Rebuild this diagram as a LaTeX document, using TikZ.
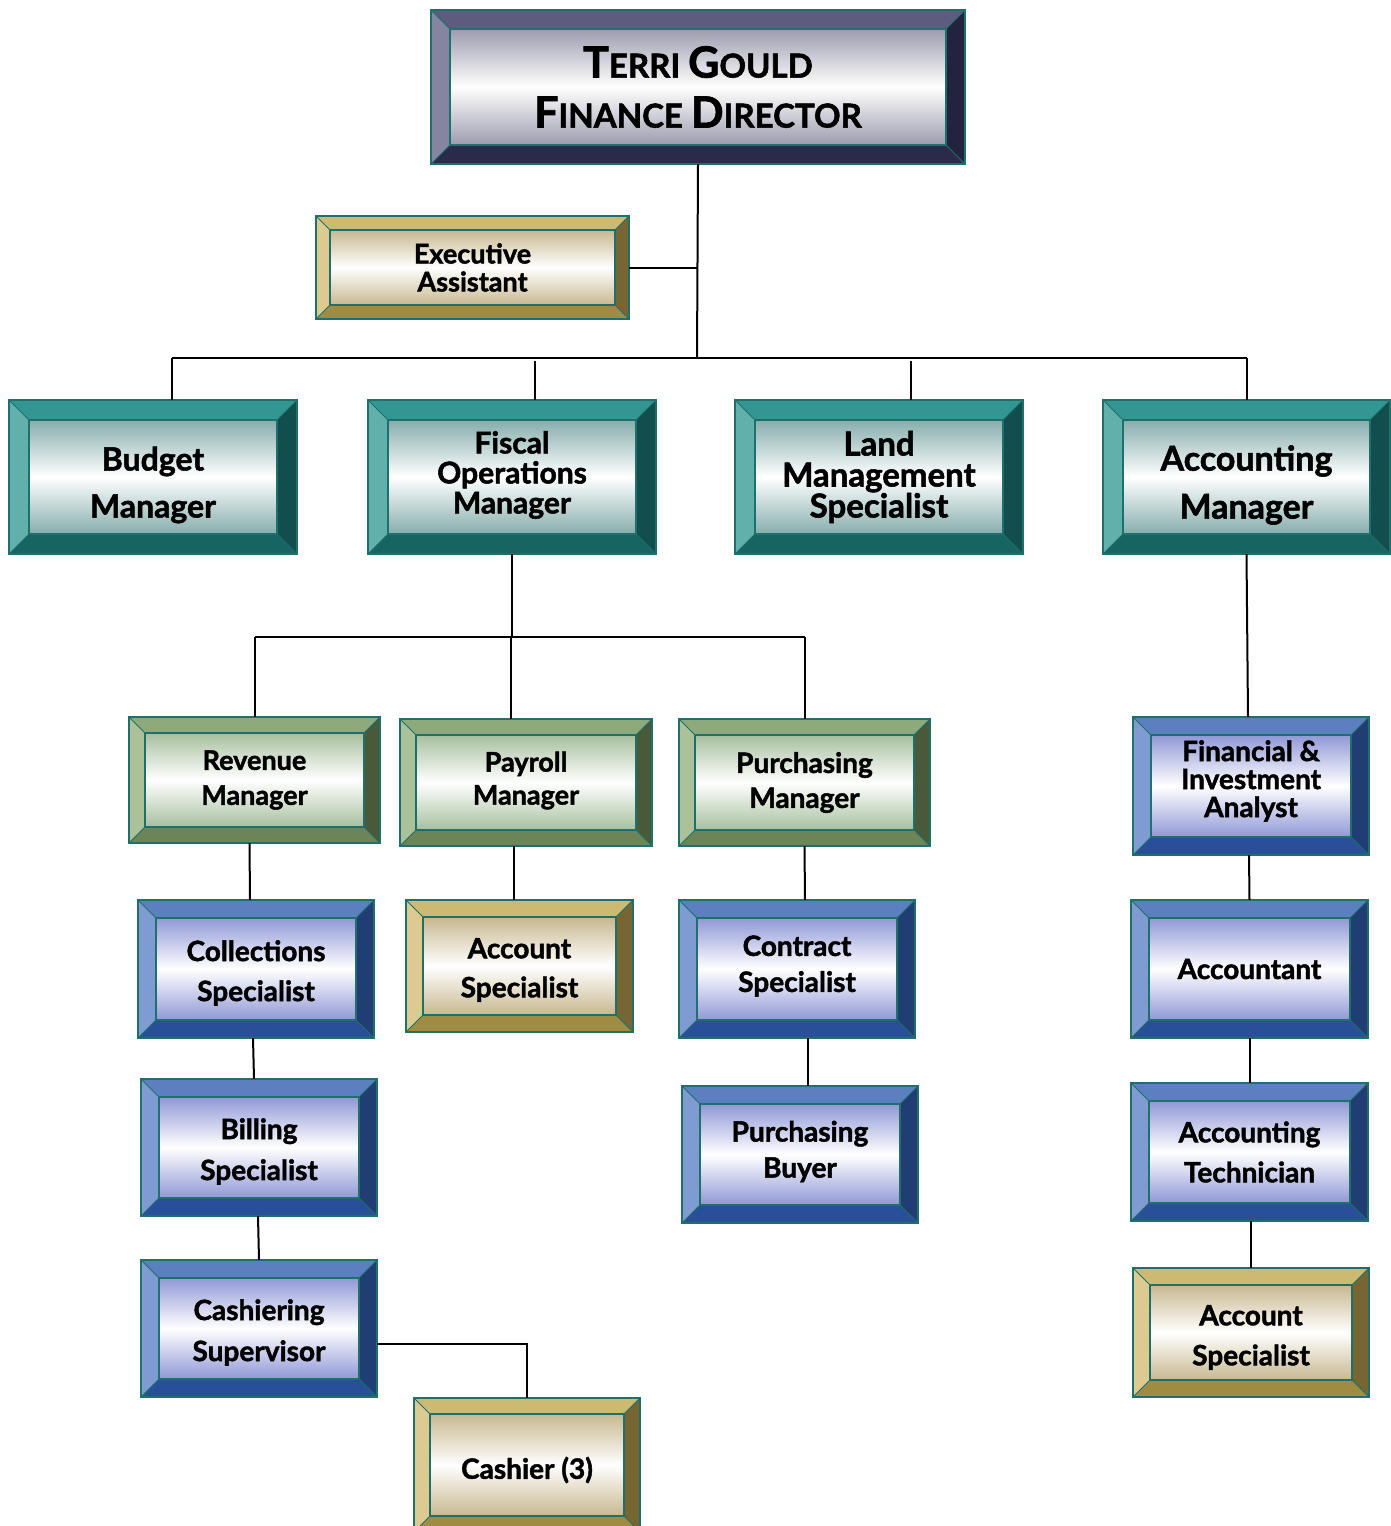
\documentclass[tikz,border=0pt]{standalone}
\usepackage{fontspec}
\setmainfont{Lato}[BoldFeatures={FakeBold=1.6}]
\usetikzlibrary{calc}

% frame and bevel colours
\definecolor{edge}{HTML}{1F706B}
\definecolor{dirT}{HTML}{5E5C7E}\definecolor{dirL}{HTML}{8585A2}\definecolor{dirR}{HTML}{24233F}\definecolor{dirB}{HTML}{2B2A4A}\definecolor{dirI}{HTML}{9C9CAE}
\definecolor{goldT}{HTML}{CDBA72}\definecolor{goldL}{HTML}{DCCB90}\definecolor{goldR}{HTML}{766633}\definecolor{goldB}{HTML}{A08B43}\definecolor{goldI}{HTML}{C8B890}
\definecolor{tealT}{HTML}{329793}\definecolor{tealL}{HTML}{62B0AC}\definecolor{tealR}{HTML}{134E4E}\definecolor{tealB}{HTML}{166563}\definecolor{tealI}{HTML}{86ADAC}
\definecolor{grnT}{HTML}{8EAA7C}\definecolor{grnL}{HTML}{AAC19A}\definecolor{grnR}{HTML}{485A3A}\definecolor{grnB}{HTML}{6C8457}\definecolor{grnI}{HTML}{A7BF9E}
\definecolor{bluT}{HTML}{5B7FBF}\definecolor{bluL}{HTML}{7E9CD1}\definecolor{bluR}{HTML}{213E74}\definecolor{bluB}{HTML}{2A4F99}\definecolor{bluI}{HTML}{9098D6}

\tikzset{
  boxnode/.style={draw=none, inner sep=0pt, outer sep=0pt},
  boxtext/.style={align=center, inner sep=0pt, font=\bfseries},
  conn/.style={black, line width=2pt},
}

% bevelled box: #1 name, #2 palette, #3 x1, #4 y1, #5 x2, #6 y2, #7 bevel, #8 text options, #9 text
\newcommand\bevbox[9]{%
  \fill[#2T] (#3,#4) -- (#5,#4) -- ({#5-#7},{#4+#7}) -- ({#3+#7},{#4+#7}) -- cycle;
  \fill[#2B] (#3,#6) -- (#5,#6) -- ({#5-#7},{#6-#7}) -- ({#3+#7},{#6-#7}) -- cycle;
  \fill[#2L] (#3,#4) -- ({#3+#7},{#4+#7}) -- ({#3+#7},{#6-#7}) -- (#3,#6) -- cycle;
  \fill[#2R] (#5,#4) -- ({#5-#7},{#4+#7}) -- ({#5-#7},{#6-#7}) -- (#5,#6) -- cycle;
  \shade[top color=#2I, bottom color=#2I, middle color=white] ({#3+#7},{#4+#7}) rectangle ({#5-#7},{#6-#7});
  \draw[edge, line width=1.4pt] ({#3+#7},{#4+#7}) rectangle ({#5-#7},{#6-#7});
  \draw[edge, line width=1pt] (#3,#4) -- ({#3+#7},{#4+#7}) (#5,#4) -- ({#5-#7},{#4+#7})
        (#3,#6) -- ({#3+#7},{#6-#7}) (#5,#6) -- ({#5-#7},{#6-#7});
  \draw[edge, line width=2pt] (#3,#4) rectangle (#5,#6);
  \node[boxnode, minimum width={(#5-#3)*1pt}, minimum height={(#6-#4)*1pt}] (#1) at ({(#3+#5)/2},{(#4+#6)/2}) {};
  \node[boxtext, #8] (#1-t) at (#1.center) {#9};
}

\newcommand\fsz[2]{\fontsize{#1}{#2}\selectfont}
\newcommand\smc[2]{{\fontsize{43}{50}\selectfont #1}{\fontsize{33}{50}\selectfont #2}}

\begin{document}
\begin{tikzpicture}[x=1pt, y=-1pt]
\useasboundingbox (0,0) rectangle (1390,1526);
\fill[white] (0,0) rectangle (1390,1526);

% junction points of the reporting lines
\coordinate (busTop) at (697,358);
\coordinate (busL) at (172,358);
\coordinate (busR) at (1247,358);
\coordinate (bus2) at (512,637);
\coordinate (bus2L) at (255,637);
\coordinate (bus2R) at (805,637);

% boxes
\bevbox{dir}{dir}{431}{10}{965}{164}{19}{font=\fsz{33}{50}\bfseries}{\smc{T}{ERRI} \smc{G}{OULD}\\\smc{F}{INANCE} \smc{D}{IRECTOR}}
\bevbox{exa}{gold}{316}{216}{629}{319}{14}{font=\fsz{27}{28}\bfseries}{Executive\\Assistant}

\bevbox{bud}{teal}{9}{400}{297}{554}{20}{font=\fsz{32}{47}\bfseries, yshift=-8pt}{Budget\\Manager}
\bevbox{fis}{teal}{368}{400}{656}{554}{20}{font=\fsz{30}{30}\bfseries, yshift=2pt}{Fiscal\\Operations\\Manager}
\bevbox{land}{teal}{735}{400}{1023}{554}{20}{font=\fsz{33}{31}\bfseries}{Land\\Management\\Specialist}
\bevbox{acm}{teal}{1103}{400}{1390}{554}{20}{font=\fsz{34}{48}\bfseries, yshift=-8pt}{Accounting\\Manager}

\bevbox{rev}{grn}{129}{717}{380}{843}{16}{font=\fsz{27}{35}\bfseries}{Revenue\\Manager}
\bevbox{pay}{grn}{400}{719}{652}{846}{16}{font=\fsz{27}{33}\bfseries, yshift=2pt}{Payroll\\Manager}
\bevbox{pur}{grn}{679}{719}{930}{846}{16}{font=\fsz{28}{35}\bfseries}{Purchasing\\Manager}
\bevbox{fin}{blu}{1133}{717}{1369}{855}{18}{font=\fsz{28}{28}\bfseries, yshift=5pt}{Financial \&\\Investment\\Analyst}

\bevbox{col}{blu}{138}{900}{374}{1038}{18}{font=\fsz{28}{40}\bfseries, yshift=-4pt}{Collections\\Specialist}
\bevbox{acs}{gold}{406}{900}{633}{1032}{17}{font=\fsz{28}{39}\bfseries, yshift=-4pt}{Account\\Specialist}
\bevbox{con}{blu}{679}{900}{915}{1038}{18}{font=\fsz{28}{36}\bfseries, yshift=3pt}{Contract\\Specialist}
\bevbox{act}{blu}{1131}{900}{1368}{1038}{18}{font=\fsz{28}{36}\bfseries}{Accountant}

\bevbox{bil}{blu}{141}{1079}{377}{1216}{18}{font=\fsz{28}{41}\bfseries, yshift=-4pt}{Billing\\Specialist}
\bevbox{buy}{blu}{682}{1086}{918}{1223}{18}{font=\fsz{28}{36}\bfseries, yshift=3pt}{Purchasing\\Buyer}
\bevbox{tec}{blu}{1131}{1083}{1368}{1221}{18}{font=\fsz{28}{40}\bfseries}{Accounting\\Technician}

\bevbox{cas}{blu}{141}{1260}{377}{1397}{18}{font=\fsz{28}{41}\bfseries, yshift=-4pt}{Cashiering\\Supervisor}
\bevbox{ac2}{gold}{1133}{1268}{1369}{1397}{17}{font=\fsz{28}{40}\bfseries, yshift=-5pt}{Account\\Specialist}
\bevbox{csh}{gold}{414}{1398}{640}{1532}{16}{font=\fsz{28}{36}\bfseries, yshift=-5pt}{Cashier (3)}

% reporting lines
\draw[conn] (dir.south) -- (busTop);
\draw[conn] (exa.east) -- (exa.east -| busTop);
\draw[conn] (busL) -- (busR);
\draw[conn] (busL) -- (bud.north -| busL);
\draw[conn] ([xshift=23pt]fis.north) -- ++(0,-39);
\draw[conn] ([xshift=32pt]land.north) -- ++(0,-39);
\draw[conn] (busR) -- (acm.north -| busR);

\draw[conn] (fis.south) -- (bus2);
\draw[conn] (bus2L) -- (bus2R);
\draw[conn] (bus2L) -- (rev.north -| bus2L);
\draw[conn] ([xshift=-15pt]pay.north) -- ++(0,-82);
\draw[conn] (bus2R) -- (pur.north -| bus2R);

\draw[conn] ([xshift=-5pt]rev.south) -- ([xshift=-6pt]col.north);
\draw[conn] ([xshift=-3pt]col.south) -- ([xshift=-5pt]bil.north);
\draw[conn] ([xshift=-1pt]bil.south) -- (cas.north);
\draw[conn] ([yshift=-15.5pt]cas.east) -| (csh.north);

\draw[conn] ([xshift=-12pt]pay.south) -- ([xshift=-5.5pt]acs.north);
\draw[conn] (pur.south) -- ([xshift=8pt]con.north);
\draw[conn] ([xshift=11pt]con.south) -- ([xshift=8pt]buy.north);

\draw[conn] (acm.south) -- ([xshift=-3pt]fin.north);
\draw[conn] ([xshift=-2pt]fin.south) -- (act.north);
\draw[conn] (act.south) -- (tec.north);
\draw[conn] ([xshift=1.5pt]tec.south) -- (ac2.north);
\end{tikzpicture}
\end{document}
